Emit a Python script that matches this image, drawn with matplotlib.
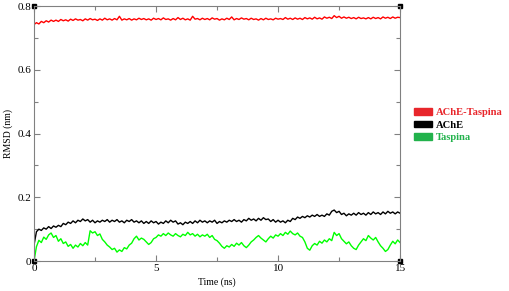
import numpy as np
import matplotlib
matplotlib.use("Agg")
import matplotlib.pyplot as plt
from matplotlib.patches import Patch

# time axis, 0.1 ns sampling
time_ns = np.round(np.arange(0, 15.01, 0.1), 1)

rmsd_complex = [
    0.742, 0.748, 0.744, 0.752, 0.748, 0.754, 0.750, 0.756, 0.752, 0.756,
    0.752, 0.758, 0.754, 0.757, 0.753, 0.759, 0.755, 0.760, 0.756, 0.758,
    0.754, 0.760, 0.756, 0.761, 0.757, 0.759, 0.755, 0.760, 0.756, 0.762,
    0.757, 0.760, 0.756, 0.761, 0.757, 0.768, 0.756, 0.760, 0.757, 0.761,
    0.756, 0.760, 0.757, 0.762, 0.758, 0.761, 0.757, 0.760, 0.756, 0.762,
    0.758, 0.761, 0.757, 0.763, 0.758, 0.760, 0.756, 0.761, 0.757, 0.764,
    0.758, 0.762, 0.757, 0.760, 0.756, 0.768, 0.759, 0.761, 0.757, 0.762,
    0.758, 0.761, 0.757, 0.763, 0.759, 0.761, 0.756, 0.760, 0.757, 0.762,
    0.758, 0.766, 0.757, 0.761, 0.758, 0.763, 0.759, 0.761, 0.757, 0.762,
    0.758, 0.760, 0.756, 0.761, 0.757, 0.762, 0.758, 0.760, 0.757, 0.762,
    0.759, 0.761, 0.758, 0.764, 0.759, 0.762, 0.758, 0.763, 0.759, 0.762,
    0.758, 0.764, 0.760, 0.763, 0.759, 0.765, 0.760, 0.763, 0.759, 0.766,
    0.762, 0.765, 0.761, 0.770, 0.764, 0.768, 0.762, 0.766, 0.762, 0.765,
    0.761, 0.764, 0.760, 0.765, 0.761, 0.763, 0.760, 0.764, 0.760, 0.765,
    0.761, 0.764, 0.760, 0.766, 0.762, 0.765, 0.761, 0.766, 0.762, 0.765,
    0.764,
]

rmsd_ache = [
    0.050, 0.092, 0.100, 0.096, 0.104, 0.100, 0.108, 0.102, 0.110, 0.106,
    0.112, 0.108, 0.118, 0.114, 0.122, 0.118, 0.126, 0.120, 0.128, 0.124,
    0.132, 0.126, 0.130, 0.122, 0.128, 0.120, 0.126, 0.122, 0.128, 0.124,
    0.130, 0.122, 0.128, 0.124, 0.130, 0.122, 0.126, 0.120, 0.128, 0.124,
    0.130, 0.122, 0.126, 0.120, 0.126, 0.118, 0.124, 0.118, 0.126, 0.120,
    0.124, 0.116, 0.122, 0.118, 0.126, 0.120, 0.128, 0.122, 0.126, 0.116,
    0.120, 0.114, 0.122, 0.118, 0.124, 0.118, 0.126, 0.120, 0.128, 0.122,
    0.126, 0.120, 0.126, 0.122, 0.128, 0.118, 0.124, 0.120, 0.126, 0.122,
    0.128, 0.124, 0.130, 0.124, 0.128, 0.122, 0.130, 0.126, 0.134, 0.128,
    0.132, 0.126, 0.134, 0.128, 0.136, 0.130, 0.132, 0.124, 0.130, 0.122,
    0.128, 0.122, 0.126, 0.120, 0.128, 0.124, 0.134, 0.130, 0.138, 0.134,
    0.140, 0.136, 0.142, 0.138, 0.144, 0.140, 0.146, 0.140, 0.144, 0.140,
    0.148, 0.144, 0.156, 0.160, 0.152, 0.156, 0.146, 0.150, 0.142, 0.148,
    0.144, 0.150, 0.144, 0.152, 0.146, 0.150, 0.144, 0.152, 0.146, 0.154,
    0.148, 0.152, 0.146, 0.154, 0.148, 0.156, 0.150, 0.154, 0.148, 0.154,
    0.150,
]

rmsd_taspina = [
    0.000, 0.045, 0.065, 0.058, 0.075, 0.068, 0.082, 0.088, 0.074, 0.080,
    0.062, 0.070, 0.055, 0.060, 0.046, 0.052, 0.040, 0.050, 0.044, 0.055,
    0.048, 0.058, 0.050, 0.095, 0.088, 0.092, 0.080, 0.085, 0.068, 0.060,
    0.050, 0.044, 0.036, 0.040, 0.028, 0.035, 0.030, 0.042, 0.038, 0.050,
    0.056, 0.070, 0.078, 0.066, 0.072, 0.068, 0.060, 0.052, 0.058, 0.070,
    0.074, 0.082, 0.078, 0.086, 0.080, 0.088, 0.082, 0.078, 0.086, 0.080,
    0.076, 0.084, 0.080, 0.090, 0.082, 0.086, 0.078, 0.084, 0.076, 0.082,
    0.078, 0.084, 0.074, 0.080, 0.068, 0.064, 0.056, 0.046, 0.040, 0.048,
    0.044, 0.052, 0.046, 0.056, 0.050, 0.058, 0.048, 0.042, 0.050, 0.060,
    0.066, 0.074, 0.080, 0.072, 0.066, 0.060, 0.070, 0.078, 0.072, 0.082,
    0.078, 0.086, 0.080, 0.090, 0.084, 0.094, 0.086, 0.082, 0.088, 0.078,
    0.074, 0.060, 0.040, 0.034, 0.048, 0.055, 0.050, 0.062, 0.056, 0.066,
    0.060, 0.070, 0.064, 0.090, 0.080, 0.086, 0.070, 0.062, 0.054, 0.060,
    0.048, 0.040, 0.036, 0.050, 0.060, 0.070, 0.064, 0.080, 0.072, 0.066,
    0.074, 0.060, 0.048, 0.040, 0.030, 0.036, 0.050, 0.062, 0.054, 0.066,
    0.058,
]

labels = ["AChE-Taspina", "AChE", "Taspina"]
line_colors = ["#ff0000", "#000000", "#00ff00"]
legend_colors = ["#e8262b", "#000000", "#22b24c"]

plt.rcParams['font.family'] = ['Liberation Serif', 'DejaVu Serif']

fig = plt.figure(figsize=(5.09, 2.91), dpi=100)
ax = fig.add_axes([0.0668, 0.103, 0.7192, 0.876])

for y, c in zip([rmsd_complex, rmsd_ache, rmsd_taspina], line_colors):
    ax.plot(time_ns, y, color=c, lw=1.0)

ax.set_xlim(0, 15)
ax.set_ylim(0, 0.8)
ax.set_xticks([0, 5, 10, 15])
ax.set_xticks([2.5, 7.5, 12.5], minor=True)
ax.set_yticks([0, 0.2, 0.4, 0.6, 0.8])
ax.set_yticks([0.1, 0.3, 0.5, 0.7], minor=True)
ax.set_yticklabels(["0", "0.2", "0.4", "0.6", "0.8"])
ax.tick_params(which='both', direction='in', top=True, right=True,
               labelsize=8, color='#808080', width=0.8, pad=2)
ax.tick_params(which='major', length=4)
ax.tick_params(which='minor', length=3)
for s in ax.spines.values():
    s.set_color('#808080')
    s.set_linewidth(0.8)

ax.set_xlabel("Time (ns)", fontsize=7, labelpad=3)
ax.set_ylabel("RMSD (nm)", fontsize=7, labelpad=3)

# little corner squares
ax.plot([0, 1, 0, 1], [0, 0, 1, 1], 's', color='black', ms=2.5,
        transform=ax.transAxes, clip_on=False)

handles = [Patch(facecolor=c, edgecolor=c) for c in legend_colors]
leg = fig.legend(handles, labels, loc='upper left', bbox_to_anchor=(0.813, 0.628),
                 frameon=False, prop={'weight': 'bold', 'size': 7.6},
                 handlelength=1.75, handleheight=0.6, handletextpad=0.35,
                 labelspacing=0.32, borderaxespad=0, borderpad=0)
for t, c in zip(leg.get_texts(), legend_colors):
    t.set_color(c)

fig.savefig("out.png", dpi=100)
